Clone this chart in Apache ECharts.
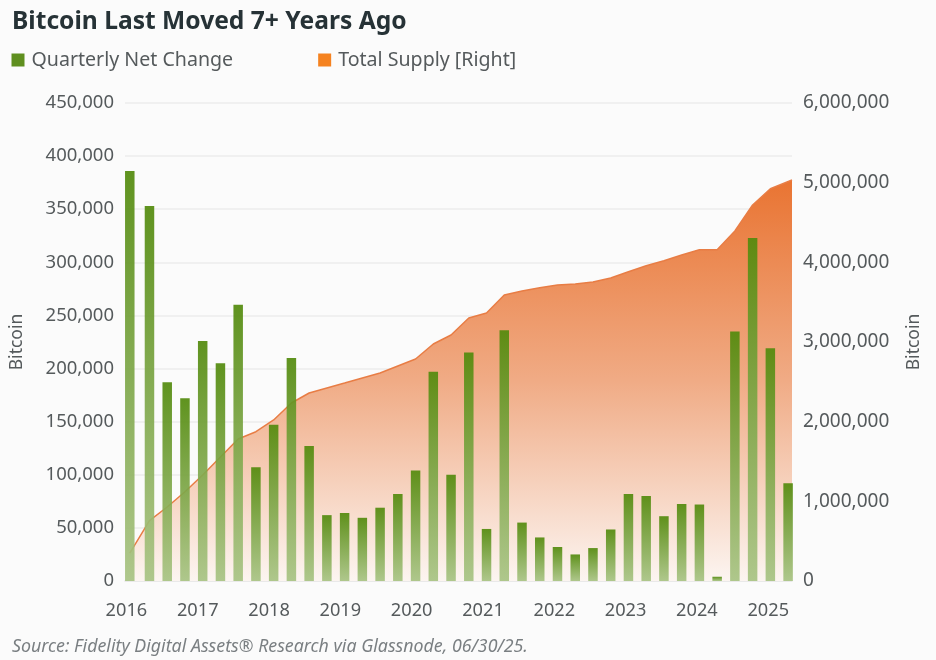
<!DOCTYPE html>
<html>
<head>
<meta charset="utf-8">
<style>
  html, body { margin: 0; padding: 0; background: #fbfbfb; }
  #main { width: 936px; height: 660px; }
</style>
<script src="https://cdn.jsdelivr.net/npm/echarts@6/dist/echarts.min.js"></script>
</head>
<body>
<div id="main"></div>
<script>
// quarterly net change, 2016 Q1 to 2025 Q2
const netChange = [
  386000, 353000, 187000, 172000,
  226000, 205000, 260000, 107000,
  147000, 210000, 127000, 62000,
  64000, 59500, 69000, 82000,
  104000, 197000, 100000, 215000,
  49000, 236000, 55000, 41000,
  32000, 25000, 31000, 48500,
  82000, 80000, 61000, 72500,
  72000, 4000, 235000, 323000,
  219000, 92000
];
const totalSupply = [
  351000, 757000, 929000, 1121000,
  1331000, 1556000, 1782000, 1874000,
  2021000, 2234000, 2360000, 2423000,
  2485000, 2548000, 2611000, 2699000,
  2787000, 2975000, 3088000, 3301000,
  3364000, 3590000, 3640000, 3682000,
  3715000, 3728000, 3753000, 3803000,
  3882000, 3958000, 4020000, 4092000,
  4159000, 4159000, 4393000, 4720000,
  4924000, 5033000
];
// x is quarters since 2016 Q1. first quarter sits a bit early, the supply line runs past the last bar
const barX = netChange.map((v, i) => (i === 0 ? -0.11 : i));
const supplyX = barX.slice(0, -1).concat(37.22);
const yearTicks = [-0.3, 3.72, 7.74, 11.76, 15.78, 19.8, 23.82, 27.84, 31.86, 35.88];
const yearLabels = ['2016', '2017', '2018', '2019', '2020', '2021', '2022', '2023', '2024', '2025'];

const textColor = '#555a5c';
const fontFamily = '"Noto Sans", "Open Sans", sans-serif';
const numberFormat = (v) => v.toLocaleString('en-US');

const chart = echarts.init(document.getElementById('main'), null, { renderer: 'canvas' });

chart.setOption({
  animation: false,
  backgroundColor: '#fbfbfb',
  textStyle: { fontFamily },
  title: [
    {
      text: 'Bitcoin Last Moved 7+ Years Ago',
      left: 12,
      top: 9,
      padding: 0,
      textStyle: { fontFamily, fontSize: 24.6, fontWeight: 'bold', color: '#263236' }
    },
    {
      text: 'Source: Fidelity Digital Assets® Research via Glassnode, 06/30/25.',
      left: 12,
      top: 638,
      padding: 0,
      textStyle: { fontFamily, fontSize: 17.8, fontWeight: 'normal', fontStyle: 'italic', color: '#7a7f82' }
    }
  ],
  legend: {
    left: 11.5,
    top: 50,
    padding: 0,
    icon: 'rect',
    itemWidth: 13,
    itemHeight: 13,
    itemGap: 85,
    textStyle: { fontFamily, fontSize: 19.6, color: textColor, padding: [0, 0, 0, 2] },
    data: [
      { name: 'Quarterly Net Change', itemStyle: { color: '#5f8f1f', opacity: 1 } },
      { name: 'Total Supply [Right]', itemStyle: { color: '#f58220', opacity: 1 } }
    ]
  },
  grid: { left: 125, right: 144, top: 103, bottom: 79 },
  xAxis: {
    type: 'value',
    min: -0.38,
    max: 37.22,
    splitLine: { show: false },
    axisTick: { show: false },
    axisLine: { show: true, lineStyle: { color: '#e6e6e6', width: 1.5 } },
    axisLabel: {
      customValues: yearTicks,
      formatter: (v) => yearLabels[yearTicks.indexOf(v)],
      margin: 21,
      fontSize: 18.2,
      color: textColor
    }
  },
  yAxis: [
    {
      type: 'value',
      min: 0,
      max: 450000,
      interval: 50000,
      name: 'Bitcoin',
      nameLocation: 'middle',
      nameGap: 99,
      nameTextStyle: { fontSize: 17.5, color: textColor },
      axisLine: { show: false },
      axisTick: { show: false },
      splitLine: { lineStyle: { color: '#ececec', width: 1.5 } },
      axisLabel: { formatter: numberFormat, fontSize: 18.5, margin: 11, padding: [6, 0, 0, 0], color: textColor }
    },
    {
      type: 'value',
      min: 0,
      max: 6000000,
      interval: 1000000,
      name: 'Bitcoin',
      nameLocation: 'middle',
      nameGap: 113,
      nameRotate: 90,
      nameTextStyle: { fontSize: 17.5, color: textColor },
      axisLine: { show: false },
      axisTick: { show: false },
      splitLine: { show: false },
      axisLabel: { formatter: numberFormat, fontSize: 19, margin: 11, padding: [6, 0, 0, 0], color: textColor }
    }
  ],
  series: [
    {
      name: 'Total Supply [Right]',
      type: 'line',
      yAxisIndex: 1,
      z: 2,
      showSymbol: false,
      data: supplyX.map((x, i) => [x, totalSupply[i]]),
      lineStyle: { color: '#e87d45', width: 1.5 },
      itemStyle: { color: '#f58220' },
      areaStyle: {
        opacity: 1,
        // gradient runs from the top of the supply curve down to the zero line
        color: new echarts.graphic.LinearGradient(0, 180, 0, 581, [
          { offset: 0, color: '#e97432' },
          { offset: 0.5, color: '#f0ab85' },
          { offset: 1, color: '#fcf5f1' }
        ], true)
      }
    },
    {
      name: 'Quarterly Net Change',
      type: 'bar',
      z: 3,
      clip: false,
      barWidth: 9.5,
      data: barX.map((x, i) => [x, netChange[i]]),
      itemStyle: {
        opacity: 0.92,
        color: new echarts.graphic.LinearGradient(0, 0, 0, 1, [
          { offset: 0, color: '#528a0c' },
          { offset: 1, color: '#a8c383' }
        ])
      }
    }
  ]
});

window.addEventListener('resize', () => {
  chart.resize();
});
</script>
</body>
</html>
